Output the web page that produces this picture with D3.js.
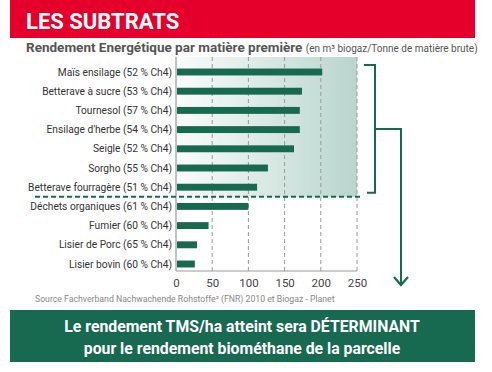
<!DOCTYPE html>
<html>
<head>
<meta charset="utf-8">
<script src="https://cdn.jsdelivr.net/npm/d3@7"></script>
<style>
  body { margin: 0; background: #fff; }
  svg { display: block; font-family: "Roboto", sans-serif; }
</style>
</head>
<body>
<svg width="492" height="372"></svg>
<script>
const categories = [
  "Maïs ensilage (52 % Ch4)",
  "Betterave à sucre (53 % Ch4)",
  "Tournesol (57 % Ch4)",
  "Ensilage d'herbe (54 % Ch4)",
  "Seigle (52 % Ch4)",
  "Sorgho (55 % Ch4)",
  "Betterave fourragère (51 % Ch4)",
  "Déchets organiques (61 % Ch4)",
  "Fumier (60 % Ch4)",
  "Lisier de Porc (65 % Ch4)",
  "Lisier bovin (60 % Ch4)"
];
const values = [202, 174, 171, 171, 163, 127, 112, 100, 45, 29, 26];
const tickValues = [0, 50, 100, 150, 200, 250];
const cropCount = 7; // first group: energy crops

const svg = d3.select("svg");
const green = "#17694f";

// Red header
svg.append("rect").attr("x", 10).attr("y", 0).attr("width", 465).attr("height", 38).attr("fill", "#e4002b");
svg.append("text").attr("x", 26).attr("y", 29)
  .attr("fill", "#fff").attr("font-weight", "bold").attr("font-size", 22)
  .text("LES SUBTRATS");

const sub = svg.append("text").attr("x", 26).attr("y", 52).attr("fill", "#555");
sub.append("tspan").attr("font-weight", "bold").attr("font-size", 13.5).text("Rendement Energétique par matière première ");
sub.append("tspan").attr("font-size", 10).text("(en m³ biogaz/Tonne de matière brute)");

// Scales
const x = d3.scaleLinear().domain([0, 250]).range([176, 357]);
const y = d3.scaleBand().domain(categories).range([62.4, 273.6])
  .paddingInner(0.64).paddingOuter(0.32);

const plotTop = 57, plotBottom = 271;
const sepY = (y(categories[cropCount - 1]) + y.bandwidth() + y(categories[cropCount])) / 2;

// Gradient background for crops
const defs = svg.append("defs");
const grad = defs.append("linearGradient").attr("id", "bg").attr("x1", 0).attr("x2", 1);
grad.append("stop").attr("offset", 0).attr("stop-color", "#fafcfb");
grad.append("stop").attr("offset", 1).attr("stop-color", "#b9d5cd");
svg.append("rect").attr("x", x(0)).attr("y", plotTop)
  .attr("width", x(250) - x(0)).attr("height", sepY - plotTop)
  .attr("fill", "url(#bg)");

// Grid
svg.append("g").selectAll("line").data(tickValues.slice(1)).join("line")
  .attr("x1", d => x(d)).attr("x2", d => x(d))
  .attr("y1", plotTop).attr("y2", plotBottom)
  .attr("stroke", "#999").attr("stroke-width", 1).attr("stroke-dasharray", "4,3");

// Axis lines
svg.append("line").attr("x1", x(0)).attr("x2", x(0)).attr("y1", plotTop).attr("y2", plotBottom)
  .attr("stroke", "#999").attr("stroke-width", 1.2);
svg.append("line").attr("x1", x(0)).attr("x2", x(250)).attr("y1", plotBottom).attr("y2", plotBottom)
  .attr("stroke", "#999").attr("stroke-width", 1.2);

// Bars
svg.append("g").selectAll("rect").data(values).join("rect")
  .attr("x", x(0) + 1)
  .attr("y", (d, i) => y(categories[i]))
  .attr("width", d => x(d) - x(0) - 1)
  .attr("height", y.bandwidth())
  .attr("fill", green);

// Category labels
svg.append("g").selectAll("text").data(categories).join("text")
  .attr("x", 172).attr("y", d => y(d) + y.bandwidth() / 2)
  .attr("dy", "0.35em").attr("text-anchor", "end")
  .attr("font-size", 10.2).attr("fill", "#333")
  .text(d => d);

// X ticks
const xAxis = d3.axisBottom(x).tickValues(tickValues).tickSize(0).tickPadding(8);
const gx = svg.append("g").attr("transform", `translate(0,${plotBottom})`).call(xAxis);
gx.select(".domain").remove();
gx.selectAll("text").attr("font-size", 11.5).attr("fill", "#444")
  .attr("font-family", "Roboto, sans-serif");

// Dashed separator
svg.append("line").attr("x1", 35).attr("x2", 362).attr("y1", sepY).attr("y2", sepY)
  .attr("stroke", green).attr("stroke-width", 2).attr("stroke-dasharray", "5,3");

// Bracket and arrow
const bx = 375, bTop = 65, bBot = sepY - 4, midY = (65 + bBot) / 2, ax = 401, aEnd = 285;
svg.append("path")
  .attr("d", `M364,${bTop}H${bx}V${bBot}H367 M${bx},${midY}H${ax}V${aEnd}`)
  .attr("fill", "none").attr("stroke", green).attr("stroke-width", 2);
svg.append("path")
  .attr("d", `M${ax - 7},${aEnd - 8}L${ax},${aEnd}L${ax + 7},${aEnd - 8}`)
  .attr("fill", "none").attr("stroke", green).attr("stroke-width", 2.2);

// Source
svg.append("text").attr("x", 35).attr("y", 302).attr("font-size", 8.7).attr("fill", "#888")
  .text("Source Fachverband Nachwachende Rohstoffe² (FNR) 2010 et Biogaz - Planet");

// Bottom green box
svg.append("rect").attr("x", 10).attr("y", 310).attr("width", 465).attr("height", 52).attr("fill", green);
svg.append("text").attr("x", 242).attr("y", 332).attr("text-anchor", "middle")
  .attr("fill", "#fff").attr("font-weight", "bold").attr("font-size", 15.8)
  .text("Le rendement TMS/ha atteint sera DÉTERMINANT");
svg.append("text").attr("x", 242).attr("y", 354).attr("text-anchor", "middle")
  .attr("fill", "#fff").attr("font-weight", "bold").attr("font-size", 15.8)
  .text("pour le rendement biométhane de la parcelle");
</script>
</body>
</html>
